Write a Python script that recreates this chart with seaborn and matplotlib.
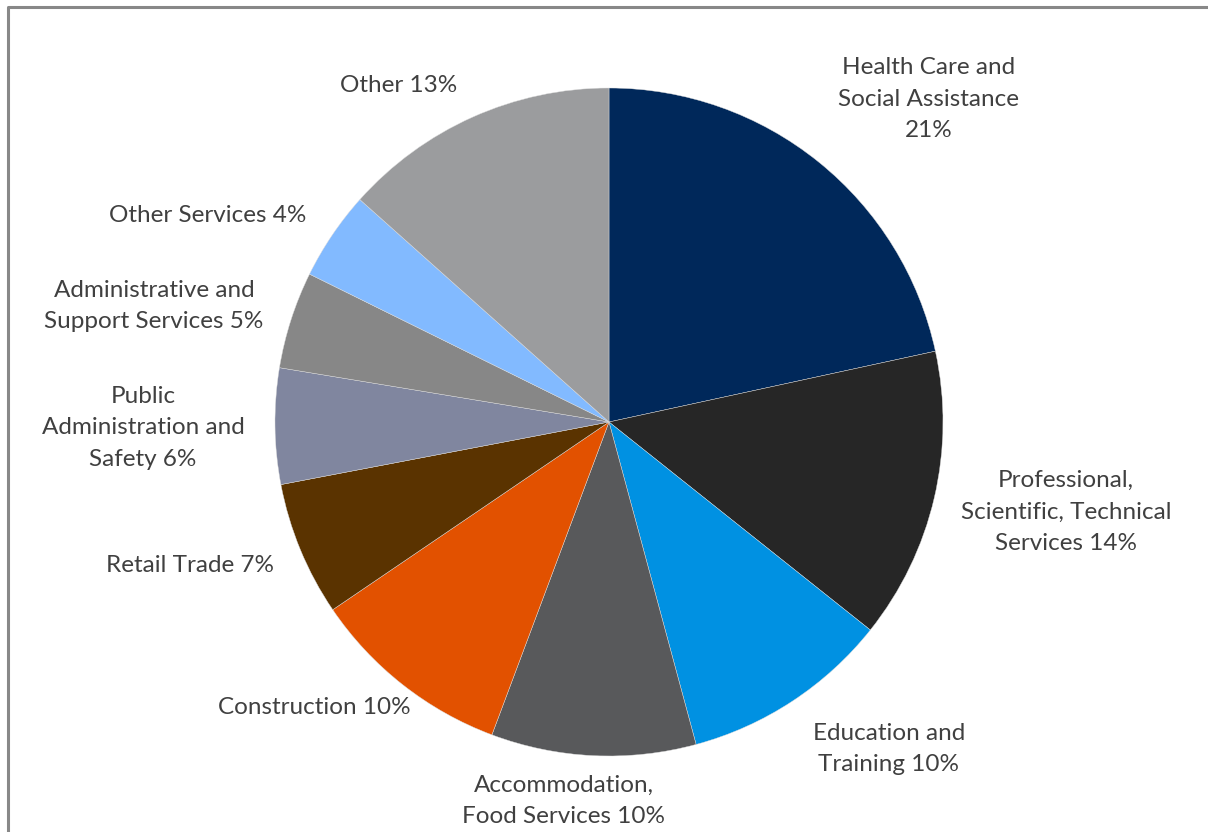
import matplotlib
matplotlib.use("Agg")
import matplotlib.pyplot as plt
import seaborn as sns

sns.set_theme(style="white")
plt.rcParams['font.family'] = ['Lato', 'DejaVu Sans']

categories = ["Health Care and\nSocial Assistance\n21%",
              "Professional,\nScientific, Technical\nServices 14%",
              "Education and\nTraining 10%",
              "Accommodation,\nFood Services 10%",
              "Construction 10%",
              "Retail Trade 7%",
              "Public\nAdministration and\nSafety 6%",
              "Administrative and\nSupport Services 5%",
              "Other Services 4%",
              "Other 13%"]
shares = [21.6, 14.1, 10.1, 9.9, 9.8, 6.5, 5.6, 4.7, 4.3, 13.4]
colors = ["#00285A", "#262626", "#0091E2", "#58595B", "#E25100",
          "#5A3300", "#80869F", "#878787", "#82BAFF", "#9B9C9E"]

# label centres in figure pixels (from top-left)
label_pos = [(929, 99), (1066, 512), (889, 749), (564, 801), (314, 707),
             (190, 566), (143, 428), (154, 306), (208, 216), (399, 86)]

W, H = 1208, 832
fig = plt.figure(figsize=(W / 100, H / 100), dpi=100)
ax = fig.add_axes([0, 0, 1, 1])
ax.pie(shares, colors=colors, startangle=90, counterclock=False,
       center=(609, H - 422), radius=334,
       wedgeprops=dict(linewidth=0.3, edgecolor="#dddddd"))
ax.set_xlim(0, W)
ax.set_ylim(0, H)
ax.set_aspect("equal")
ax.axis("off")

for lab, (x, y) in zip(categories, label_pos):
    ax.text(x, H - y, lab, ha="center", va="center", fontsize=17.5,
            color="#404040", linespacing=1.62)

# chart border (top and left visible)
ax.plot([8, 8, W], [0, H - 7, H - 7], color="#888888", linewidth=2.2,
        solid_capstyle="butt", clip_on=False)

fig.savefig("out.png", dpi=100, facecolor="white")
